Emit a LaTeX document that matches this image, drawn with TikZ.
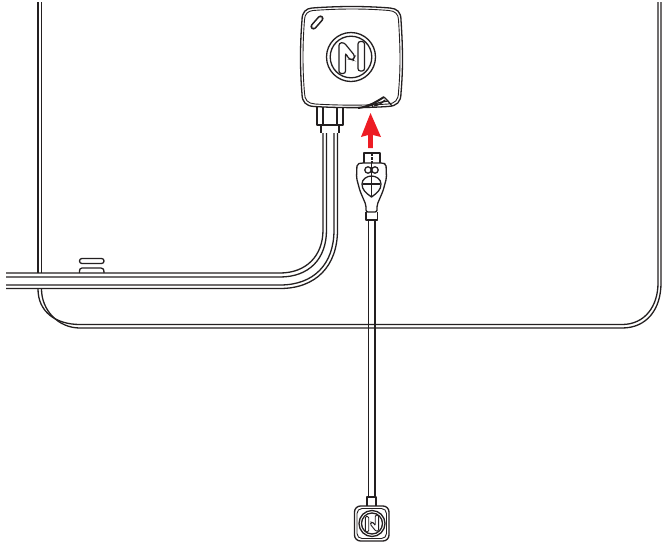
\documentclass[tikz,border=0pt]{standalone}
\definecolor{ink}{HTML}{231F20}
\definecolor{arrowred}{HTML}{ED1C24}
\tikzset{
  ln/.style={line width=1.3pt,ink,line join=round},
  thin ln/.style={line width=0.9pt,ink,line join=round},
  logo/.style={line width=1.2pt,ink,rounded corners=2.4pt,fill=white},
  small logo/.style={line width=0.9pt,ink,rounded corners=1.2pt,fill=white},
}
\begin{document}
\begin{tikzpicture}[x=1pt,y=-1pt]
\useasboundingbox (0,0) rectangle (662,547);
\clip (0,0) rectangle (662,547);
% panel
\draw[ln] (38,2) -- (38,273);
\draw[ln] (41.5,2) -- (41.5,273);
\draw[ln] (38,289) .. controls (38,312) and (56,324.5) .. (80,324.5) -- (622,324.5) .. controls (645,324.5) and (658,306) .. (658,283) -- (658,2);
\draw[ln] (41.5,289) .. controls (41.5,310) and (58,328) .. (80,328) -- (622,328) .. controls (647,328) and (661,309) .. (661,283) -- (661,2);
% pills
\draw[ln,rounded corners=2.4pt] (79.5,258.5) rectangle (104,263.5);
\draw[ln] (79.5,273) .. controls (79.5,269) and (80,268) .. (82,268) -- (101,268) .. controls (103,268) and (104,269) .. (104,273);
% cable from the left
\draw[ln] (6,273) -- (280,273) .. controls (306,273) and (323,256) .. (323,230) -- (323,133);
\draw[ln] (6,277) -- (280,277) .. controls (309,277) and (326.5,259) .. (326.5,230) -- (326.5,133);
\draw[ln] (6,285) -- (280,285) .. controls (314,285) and (334,264) .. (334,230) -- (334,133);
\draw[ln] (6,288.5) -- (280,288.5) .. controls (316,288.5) and (337.5,266) .. (337.5,230) -- (337.5,133);
% collar
\draw[ln] (317,105) -- (317,125) -- (343,125) -- (343,105);
\draw[ln] (323,105) -- (323,125);
\draw[ln] (337,105) -- (337,125);
\draw[ln] (321,125) -- (321,133);
\draw[ln] (339,125) -- (339,133);
% box
\draw[ln,fill=white] (312,8) .. controls (340,6) and (365,6) .. (390,8) .. controls (397,8.5) and (401,12) .. (401,20) .. controls (403,50) and (403,70) .. (401,93) .. controls (401,102) and (397,106) .. (388,106.5) .. controls (365,108) and (340,108) .. (314,106.5) .. controls (306,106) and (302,102) .. (302,94) .. controls (300,70) and (300,45) .. (302,20) .. controls (302,12) and (306,8.5) .. (312,8) -- cycle;
\draw[thin ln] (313,10.5) .. controls (340,8.5) and (365,8.5) .. (389,10.5) .. controls (395,11) and (398.5,14) .. (398.5,20) .. controls (400.5,50) and (400.5,70) .. (398.5,92) .. controls (398.5,100) and (395,103.5) .. (388,104) .. controls (365,105.5) and (340,105.5) .. (315,104) .. controls (308,103.5) and (304.5,100) .. (304.5,93) .. controls (302.5,70) and (302.5,45) .. (304.5,20) .. controls (304.5,14) and (308,11) .. (313,10.5) -- cycle;
% slot
\draw[line width=6.2pt,ink,line cap=round] (313.5,26.5) -- (320.5,18.5);
\draw[line width=3pt,white,line cap=round] (313.5,26.5) -- (320.5,18.5);
% main logo
\draw[ln] (351,57) circle[radius=24.5];
\draw[ln] (351,57) circle[radius=20.8];
\draw[logo] (339,43) -- (344,42.5) -- (355,56) -- (353,60) -- (349,59) -- (345.5,53) -- (345.5,73.5) -- (339,73.5) -- cycle;
\draw[logo] (358,41.5) -- (364.5,41.5) -- (364.5,71) -- (358,71) -- cycle;
% notch
\draw[line width=2pt,ink] (358,108) .. controls (368,107) and (376,102) .. (384,97);
\draw[ln] (384,97) -- (388,101) -- (392,106);
\draw[ln] (366,107) .. controls (374,104) and (380,102) .. (388,101);
\draw[ln] (374,106) .. controls (378,105) and (381,104) .. (385,100);
\draw[ln] (368,107) arc[start angle=180,end angle=360,radius=2.5];
% red arrow
\fill[arrowred] (370.5,113) -- (381,137) -- (372.8,135) -- (372.8,148) -- (368.2,148) -- (368.2,135) -- (361,137) -- cycle;
% connector
\draw[ln,fill=white] (364,163) -- (364,153) -- (380,153) -- (380,163);
\draw[line width=1.8pt,ink,dash pattern=on 2.5pt off 1.5pt] (372,153) -- (372,163);
\draw[ln,fill=white,rounded corners=2pt] (361,163) -- (383,163) -- (386,164) -- (386.5,178) -- (383,191) -- (377,205) -- (377,212) -- (366,212) -- (366,205) -- (360,191) -- (356.5,178) -- (357,164) -- cycle;
\draw[ln] (371.5,163) -- (371.5,177);
\draw[ln] (368,170) circle[radius=3.2];
\draw[ln] (375,170) circle[radius=3.2];
\draw[ln,fill=white] (371.5,197) .. controls (366,193) and (362,190) .. (362,184) .. controls (362,179) and (367,176) .. (371.5,176) .. controls (376,176) and (381,179) .. (381,184) .. controls (381,190) and (377,193) .. (371.5,197) -- cycle;
\draw[ln] (371.5,176) -- (371.5,197);
\draw[ln] (363,184) -- (380,184);
\draw[ln] (366,212) -- (366,220) -- (377.5,220) -- (377.5,212);
% long cable
\draw[ln] (368.5,220) -- (368.5,497);
\draw[ln] (375,220) -- (375,497);
% bottom plug
\draw[ln] (367,506) -- (367,497) -- (376,497) -- (376,506);
\draw[ln,rounded corners=6pt] (354.5,506) -- (389,506) -- (389,541) -- (354.5,541) -- cycle;
\draw[thin ln,rounded corners=5pt] (357,508.5) -- (386.5,508.5) -- (386.5,538.5) -- (357,538.5) -- cycle;
\draw[ln] (372,523.5) circle[radius=13];
\draw[ln] (372,523.5) circle[radius=10.5];
\begin{scope}[shift={(372,523.5)},scale=0.52,rotate=180,shift={(-351.7,-57.5)}]
\draw[small logo] (339,43) -- (344,42.5) -- (355,56) -- (353,60) -- (349,59) -- (345.5,53) -- (345.5,73.5) -- (339,73.5) -- cycle;
\draw[small logo] (358,41.5) -- (364.5,41.5) -- (364.5,71) -- (358,71) -- cycle;
\end{scope}
\end{tikzpicture}
\end{document}
